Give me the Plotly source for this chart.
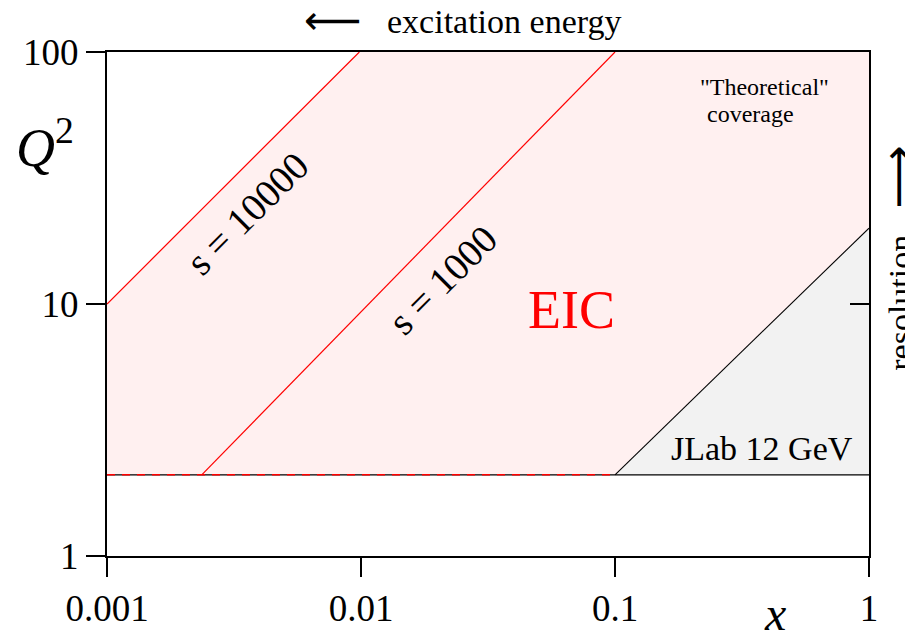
import plotly.graph_objects as go

# ---- data ----
x_range = [0.001, 1]
q2_range = [1, 100]
q2_min = 2.1
s10000_x = [0.001, 0.00985]
s10000_q2 = [10, 100]
s1000_x = [0.00236, 0.1]
s1000_q2 = [2.1, 100]
jlab_x = [0.1, 1]
jlab_q2 = [2.1, 20]
x_ticks = [0.001, 0.01, 0.1, 1]
x_ticklabels = ["0.001", "0.01", "0.1", "1"]
y_ticks = [1, 10, 100]
y_ticklabels = ["1", "10", "100"]

SERIF = "Liberation Serif, Times New Roman, serif"
ARROWFONT = "DejaVu Sans"

fig = go.Figure()

# EIC coverage region (pink)
eic_x = [s10000_x[0], s10000_x[0], s10000_x[1], x_range[1], jlab_x[1], jlab_x[0]]
eic_y = [q2_min, s10000_q2[0], s10000_q2[1], q2_range[1], jlab_q2[1], jlab_q2[0]]
fig.add_trace(go.Scatter(x=eic_x, y=eic_y, fill="toself", mode="none",
                         fillcolor="rgb(255,240,240)", hoverinfo="skip", showlegend=False))
# JLab region (gray)
jl_x = [jlab_x[0], jlab_x[1], jlab_x[1]]
jl_y = [jlab_q2[0], jlab_q2[1], q2_min]
fig.add_trace(go.Scatter(x=jl_x, y=jl_y, fill="toself", mode="none",
                         fillcolor="rgb(242,242,242)", hoverinfo="skip", showlegend=False))

# lines
fig.add_trace(go.Scatter(x=s10000_x, y=s10000_q2, mode="lines",
                         line=dict(color="red", width=1.2), showlegend=False))
fig.add_trace(go.Scatter(x=s1000_x, y=s1000_q2, mode="lines",
                         line=dict(color="red", width=1.2), showlegend=False))
fig.add_trace(go.Scatter(x=jlab_x, y=jlab_q2, mode="lines",
                         line=dict(color="black", width=1.1), showlegend=False))
fig.add_trace(go.Scatter(x=[x_range[0], x_range[1]], y=[q2_min, q2_min], mode="lines",
                         line=dict(color="black", width=1.3), showlegend=False))
fig.add_trace(go.Scatter(x=[x_range[0], jlab_x[0]], y=[q2_min, q2_min], mode="lines",
                         line=dict(color="red", width=1.6, dash="8px,7px"), showlegend=False))

fig.update_xaxes(type="log", range=[-3, 0], tickvals=x_ticks, ticktext=x_ticklabels,
                 ticks="outside", ticklen=19, tickwidth=2, tickcolor="black",
                 showline=True, linewidth=2, linecolor="black", mirror=True,
                 showgrid=False, zeroline=False,
                 tickfont=dict(family=SERIF, size=37, color="black"))
fig.update_yaxes(type="log", range=[0, 2], tickvals=y_ticks, ticktext=y_ticklabels,
                 ticks="outside", ticklen=19, tickwidth=2, tickcolor="black",
                 showline=True, linewidth=2, linecolor="black", mirror=True,
                 showgrid=False, zeroline=False,
                 tickfont=dict(family=SERIF, size=37, color="black"))

fig.update_layout(
    yaxis2=dict(type="log", range=[0, 2], overlaying="y", side="right",
                tickvals=y_ticks, showticklabels=False, ticks="inside",
                ticklen=19, tickwidth=2, tickcolor="black", showline=False,
                showgrid=False, zeroline=False),
)
# dummy trace to activate the right axis
fig.add_trace(go.Scatter(x=[x_range[0]], y=[q2_range[0]], yaxis="y2", mode="none",
                         showlegend=False, hoverinfo="skip"))

ann = []
def a(text, x, y, size, color="black", angle=0, xref="paper", yref="paper", family=SERIF, **kw):
    ann.append(dict(text=text, x=x, y=y, xref=xref, yref=yref, showarrow=False,
                    xanchor="center", yanchor="middle",
                    textangle=angle, font=dict(family=family, size=size, color=color), **kw))

a("EIC", 0.610, 0.488, 54, color="red")
a("s = 10000", 0.1836, 0.680, 39, angle=-45)
a("s = 1000", 0.4407, 0.549, 39, angle=-45)
a("\"Theoretical\"", 0.863, 0.930, 24)
a("coverage", 0.8446, 0.876, 24)
a("JLab 12 GeV", 0.859, 0.214, 34)
a("<i>Q</i><sup>2</sup>", -0.082, 0.818, 54)
a("<i>x</i>", 0.877, -0.115, 48)
a("excitation energy", 0.521, 1.06, 34)
a("\u27f5", 0.296, 1.063, 40, family=ARROWFONT)
a("resolution", 1.041, 0.503, 34, angle=-90)
a("\u27f6", 1.038, 0.753, 44, angle=-90, family=ARROWFONT)

fig.update_layout(
    width=905, height=633,
    margin=dict(l=99, r=44, t=44, b=80),
    plot_bgcolor="white", paper_bgcolor="white",
    annotations=ann,
    showlegend=False,
)

fig.write_html("out.html")
